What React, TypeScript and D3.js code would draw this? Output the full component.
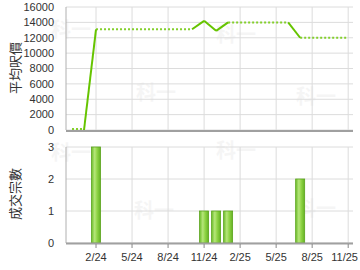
import React from "react";
import * as d3 from "d3";

// month index: 0 = Jan 2024
const tickMonths = [1, 4, 7, 10, 13, 16, 19, 22];
const tickLabels = ["2/24", "5/24", "8/24", "11/24", "2/25", "5/25", "8/25", "11/25"];
const priceTicks = [0, 2000, 4000, 6000, 8000, 10000, 12000, 14000, 16000];
const countTicks = [0, 1, 2, 3];

const startMonth = -1; // Dec 2023
const startPrice = 0;
const endMonth = 22; // Nov 2025
const dataMonths = [1, 10, 11, 12, 18];
const avgPrices = [13100, 14200, 12900, 14000, 12000];
const dealCounts = [3, 1, 1, 1, 2];

const W = 360, H = 270;
const x = d3.scaleLinear().domain([-1.5, 22.4]).range([66, 353]);
const yP = d3.scaleLinear().domain([0, 16000]).range([130, 7]);
const yC = d3.scaleLinear().domain([0, 3]).range([243, 147]);

const font = "'Liberation Sans', Arial, sans-serif";
const cjk = "'Noto Sans CJK TC', 'Noto Sans CJK SC', sans-serif";

export default function App() {
  const line = d3.line<[number, number]>().x(d => x(d[0])).y(d => yP(d[1]));
  const solid: [number, number][][] = [];
  const dotted: [number, number][][] = [];
  let prevM = startMonth, prevV = startPrice;
  dataMonths.forEach((m, i) => {
    if (m - 1 > prevM) dotted.push([[prevM, prevV], [m - 1, prevV]]);
    solid.push([[m - 1, prevV], [m, avgPrices[i]]]);
    prevM = m; prevV = avgPrices[i];
  });
  if (endMonth > prevM) dotted.push([[prevM, prevV], [endMonth, prevV]]);

  const watermarks = [
    [71, 37], [156, 100], [236, 42], [316, 104],
    [71, 160], [154, 218], [236, 158], [316, 216],
  ];

  const vGrid = tickMonths.map(m => x(m));
  return (
    <svg width={W} height={H} style={{ position: "absolute", left: 0, top: 0, background: "#fff" }}>
      <defs>
        <linearGradient id="barg" x1="0" x2="1" y1="0" y2="0">
          <stop offset="0" stopColor="#6cbc2a" />
          <stop offset="0.35" stopColor="#b6e67a" />
          <stop offset="0.6" stopColor="#92d648" />
          <stop offset="1" stopColor="#64b222" />
        </linearGradient>
      </defs>
      {watermarks.map(([wx, wy], i) => (
        <text key={i} x={wx} y={wy} textAnchor="middle" fontFamily={cjk} fontSize={20} fontWeight="bold" fill="#000" opacity={0.035}>科一</text>
      ))}
      {/* top chart grid */}
      {priceTicks.map(t => (
        <line key={t} x1={66} x2={353} y1={yP(t)} y2={yP(t)} stroke="#dcdcdc" strokeWidth={1} />
      ))}
      {vGrid.map((gx, i) => (
        <line key={i} x1={gx} x2={gx} y1={7} y2={130} stroke="#dcdcdc" strokeWidth={1} />
      ))}
      <line x1={66} x2={66} y1={7} y2={130} stroke="#b0b0b0" />
      <line x1={66} x2={353} y1={131} y2={131} stroke="#a0a0a0" strokeWidth={2} />
      {priceTicks.map(t => (
        <text key={t} x={54} y={yP(t)} dy="0.35em" textAnchor="end" fontFamily={font} fontSize={11} fill="#333">{t}</text>
      ))}
      <text transform={`translate(15,68) rotate(-90)`} textAnchor="middle" dy="0.35em" fontFamily={cjk} fontSize={13} fill="#333">平均呎價</text>
      {dotted.map((s, i) => (
        <path key={"d" + i} d={line(s.map(p => [p[0], p[1]] as [number, number])) || ""} transform={s[0][1] === 0 ? "translate(0,-1)" : undefined}
          fill="none" stroke="#84d02c" strokeWidth={2} strokeDasharray="2 2" />
      ))}
      {solid.map((s, i) => (
        <path key={"s" + i} d={line(s) || ""} fill="none" stroke="#66c400" strokeWidth={2} />
      ))}

      {/* bottom chart */}
      {countTicks.map(t => (
        <line key={t} x1={66} x2={353} y1={yC(t)} y2={yC(t)} stroke="#dcdcdc" />
      ))}
      {vGrid.map((gx, i) => (
        <line key={i} x1={gx} x2={gx} y1={147} y2={243} stroke="#dcdcdc" />
      ))}
      <line x1={66} x2={66} y1={147} y2={243} stroke="#b0b0b0" />
      {dataMonths.map((m, i) => (
        <rect key={m} x={x(m) - 4.5} y={yC(dealCounts[i])} width={9} height={yC(0) - yC(dealCounts[i])}
          fill="url(#barg)" stroke="#5aa41c" strokeWidth={0.8} />
      ))}
      <line x1={66} x2={353} y1={243.5} y2={243.5} stroke="#a0a0a0" strokeWidth={2} />
      {vGrid.map((gx, i) => (
        <line key={i} x1={gx} x2={gx} y1={244} y2={248} stroke="#888" />
      ))}
      {countTicks.map(t => (
        <text key={t} x={54} y={yC(t)} dy="0.35em" textAnchor="end" fontFamily={font} fontSize={11} fill="#333">{t}</text>
      ))}
      {tickMonths.map((m, i) => {
        const last = i === tickMonths.length - 1;
        return (
          <text key={m} x={last ? 358 : x(m)} y={257} dy="0.35em" textAnchor={last ? "end" : "middle"} fontFamily={font} fontSize={11} fill="#333">{tickLabels[i]}</text>
        );
      })}
      <text transform={`translate(15,194) rotate(-90)`} textAnchor="middle" dy="0.35em" fontFamily={cjk} fontSize={13} fill="#333">成交宗數</text>
    </svg>
  );
}
